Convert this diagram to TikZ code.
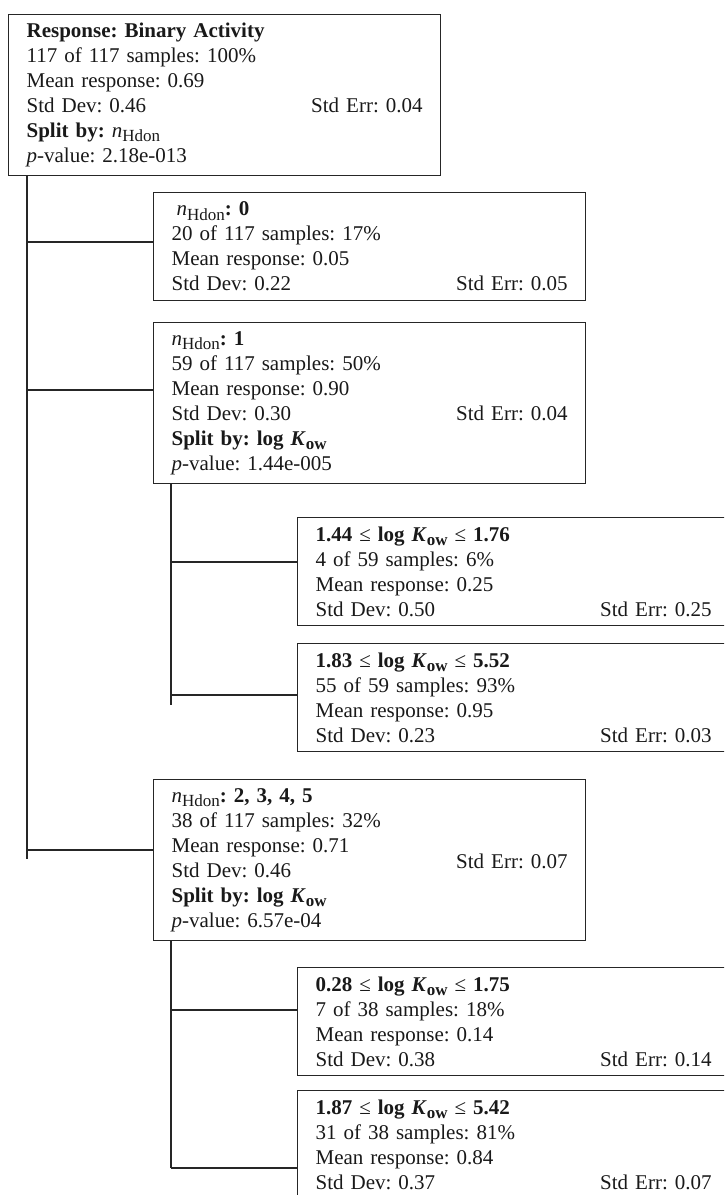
\documentclass[tikz,border=0pt]{standalone}
\usepackage{fontspec}
\setmainfont{Liberation Serif}
\frenchspacing

\newcommand{\subtext}[1]{\raisebox{-0.45ex}{\fontsize{8.5}{8.5}\selectfont #1}}
\newcommand{\nHdon}{\textit{n}\subtext{Hdon}}
\newcommand{\Kow}{\textbf{\textit{K}}\subtext{\textbf{ow}}}

\tikzset{
  leaf/.style={draw=black!85, line width=0.6pt, anchor=north west, align=left,
      text width=198pt, inner xsep=9pt, inner ysep=0pt, minimum height=54pt,
      font=\fontsize{10.5}{12.5}\selectfont, text=black!90},
  splitbox/.style={leaf, minimum height=80.5pt},
  link/.style={draw=black!85, line width=0.6pt}
}
\def\PixScale {0.5pt}

\begin{document}
\begin{tikzpicture}[x=\PixScale, y=-\PixScale]
        \useasboundingbox (0,0) rectangle (724,1195);
        \clip (0,0) rectangle (724,1195);
        \node[splitbox] (root) at (8,14) {\textbf{Response: Binary Activity}\\
            117 of 117 samples: 100\%\\
            Mean response: 0.69\\
            Std Dev: 0.46\hfill Std Err: 0.04\\
            \textbf{Split by:} \nHdon\\
            \textit{p}-value: 2.18e-013};
        \node[leaf] (n0) at (153,192) {\hspace{2.5pt}\nHdon\textbf{: 0}\\
            20 of 117 samples: 17\%\\
            Mean response: 0.05\\
            Std Dev: 0.22\hfill Std Err: 0.05};
        \node[splitbox] (n1) at (153,322) {\nHdon\textbf{: 1}\\
            59 of 117 samples: 50\%\\
            Mean response: 0.90\\
            Std Dev: 0.30\hfill Std Err: 0.04\\
            \textbf{Split by: log \Kow}\\
            \textit{p}-value: 1.44e-005};
        \node[leaf] (s1) at (297,517) {\textbf{1.44} ≤ \textbf{log \Kow} ≤ \textbf{1.76}\\
            4 of 59 samples: 6\%\\
            Mean response: 0.25\\
            Std Dev: 0.50\hfill Std Err: 0.25};
        \node[leaf] (s2) at (297,643) {\textbf{1.83} ≤ \textbf{log \Kow} ≤ \textbf{5.52}\\
            55 of 59 samples: 93\%\\
            Mean response: 0.95\\
            Std Dev: 0.23\hfill Std Err: 0.03};
        \node[splitbox] (n2) at (153,779) {\nHdon\textbf{: 2, 3, 4, 5}\\
            38 of 117 samples: 32\%\\
            Mean response: 0.71\\
            Std Dev: 0.46\hfill\raisebox{4.5pt}[0pt][0pt]{Std Err: 0.07}\\
            \textbf{Split by: log \Kow}\\
            \textit{p}-value: 6.57e-04};
        \node[leaf] (s3) at (297,967) {\textbf{0.28} ≤ \textbf{log \Kow} ≤ \textbf{1.75}\\
            7 of 38 samples: 18\%\\
            Mean response: 0.14\\
            Std Dev: 0.38\hfill Std Err: 0.14};
        \node[leaf] (s4) at (297,1090) {\textbf{1.87} ≤ \textbf{log \Kow} ≤ \textbf{5.42}\\
            31 of 38 samples: 81\%\\
            Mean response: 0.84\\
            Std Dev: 0.37\hfill Std Err: 0.07};
        \coordinate (t_root) at ([xshift=9.5pt]root.south west);
        \coordinate (t_n1) at ([xshift=9pt]n1.south west);
        \coordinate (t_n2) at ([xshift=9pt]n2.south west);
        \foreach \up/\kid/\off in {root/n0/25, root/n1/34, root/n2/35.5, n1/s1/22.5, n1/s2/26, n2/s3/21.5, n2/s4/39} {
            \coordinate (b_\kid) at ([yshift=-\off pt]\kid.north west);
            \draw[link] (t_\up |- b_\kid) -- (b_\kid);
          }
        \draw[link] (t_root) -- ([yshift=-4.5pt]t_root |- b_n2);
        \draw[link] (t_n1) -- ([yshift=-5pt]t_n1 |- b_s2);
        \draw[link] (t_n2) -- (t_n2 |- b_s4);
      \end{tikzpicture}
\end{document}
